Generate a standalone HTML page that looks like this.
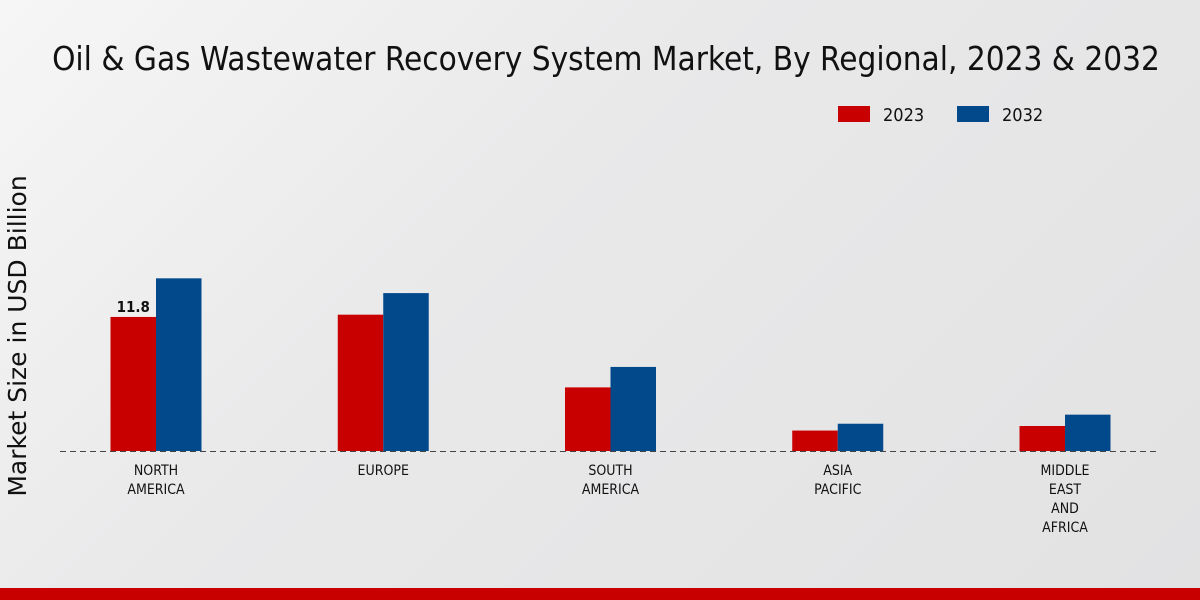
<!DOCTYPE html>
<html><head><meta charset="utf-8"><style>
body{margin:0;width:1200px;height:600px;overflow:hidden;background:linear-gradient(135deg,#f6f6f6 0%,#e9e9ea 40%,#e2e2e3 100%);font-family:"DejaVu Sans Condensed","Liberation Sans Narrow","Liberation Sans",sans-serif;}
svg{position:absolute;left:0;top:0}
</style></head><body>
<svg width="1200" height="600">
<text x="606" y="70" text-anchor="middle" font-size="33" fill="#111" font-family="'DejaVu Sans Condensed','Liberation Sans Narrow',sans-serif">Oil &amp; Gas Wastewater Recovery System Market, By Regional, 2023 &amp; 2032</text>
<g>
<rect x="838" y="106" width="32" height="16" fill="#c80000"/>
<text x="883" y="121" font-size="18" fill="#111">2023</text>
<rect x="957" y="106" width="32" height="16" fill="#02498c"/>
<text x="1002" y="121" font-size="18" fill="#111">2032</text>
</g>
<text transform="translate(26,336) rotate(-90)" text-anchor="middle" font-size="25" fill="#111" font-family="'DejaVu Sans',sans-serif">Market Size in USD Billion</text>
<line x1="60" y1="451.5" x2="1160" y2="451.5" stroke="#444" stroke-dasharray="6,4"/>
<g id="bars"></g>
<rect x="0" y="588" width="1200" height="12" fill="#c80000"/>
</svg>
<script>
const categories=[["NORTH","AMERICA"],["EUROPE"],["SOUTH","AMERICA"],["ASIA","PACIFIC"],["MIDDLE","EAST","AND","AFRICA"]];
const values2023=[11.8,12.0,5.6,1.8,2.2];
const values2032=[15.2,13.9,7.4,2.4,3.2];
const labels2023=["11.8",null,null,null,null];
const NS="http://www.w3.org/2000/svg";
const g=document.getElementById('bars');
const base=451, scale=11.36, x0=156, step=227.25, bw=45.5;
const y=v=>base-v*scale;
function mk(t,a){const e=document.createElementNS(NS,t);for(const k in a)e.setAttribute(k,a[k]);g.appendChild(e);return e;}
categories.forEach((c,i)=>{
 const cx=x0+i*step;
 let r=mk('rect',{x:cx-bw,y:y(values2023[i]),width:bw,height:values2023[i]*scale,fill:'#c80000'});
 
 
 r=mk('rect',{x:cx,y:y(values2032[i]),width:bw,height:values2032[i]*scale,fill:'#02498c'});
 
 
 if(labels2023[i]){const t=mk('text',{x:cx-bw/2,y:y(values2023[i])-5,'text-anchor':'middle','font-size':15,'font-weight':'bold',fill:'#111'});t.textContent=labels2023[i];
  
  }
 c.forEach((line,j)=>{const t=mk('text',{x:cx,y:475+j*19,'text-anchor':'middle','font-size':14,fill:'#111'});t.textContent=line;
  
  });
});
</script>
</body></html>
